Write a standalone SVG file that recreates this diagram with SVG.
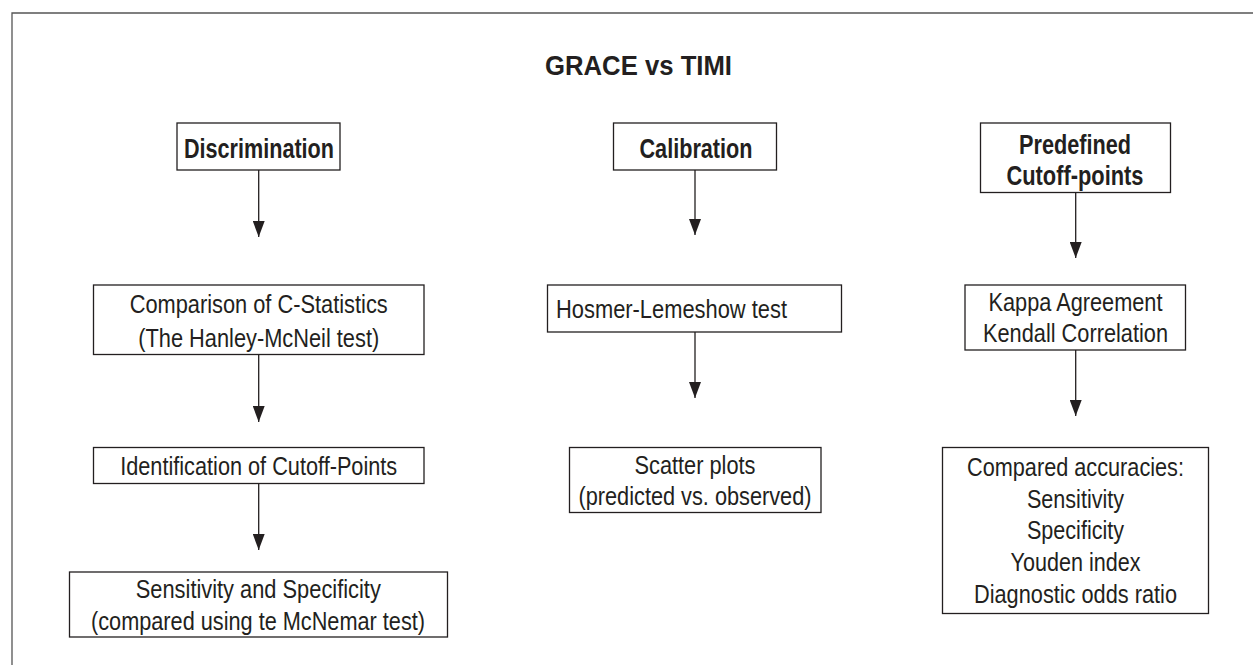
<svg xmlns="http://www.w3.org/2000/svg" width="1253" height="665" viewBox="0 0 1253 665">
<style>
.box{fill:#fff;stroke:#231f20;stroke-width:1.3}
.t{font-family:"Liberation Sans",Arial,sans-serif;font-size:25px;fill:#231f20;text-anchor:middle}
.b{font-family:"Liberation Sans",Arial,sans-serif;font-size:27px;font-weight:bold;fill:#231f20;text-anchor:middle}
.c{stroke:#231f20;stroke-width:1.3;fill:none;marker-end:url(#ah)}
</style>
<defs>
<marker id="ah" markerUnits="userSpaceOnUse" markerWidth="16" markerHeight="12" refX="16" refY="6" orient="auto" viewBox="0 0 16 12">
<path d="M0,0 L16,6 L0,12 Z" fill="#231f20"/>
</marker>
</defs>
<rect width="1253" height="665" fill="#fff"/>
<path d="M12,665 V13 H1253" fill="none" stroke="#555" stroke-width="1.3"/>
<g id="title"><text class="b" x="638.5" y="75" textLength="187" lengthAdjust="spacingAndGlyphs">GRACE vs TIMI</text></g>

<g id="connectors">
<line class="c" x1="258.7" y1="170" x2="258.7" y2="237"/>
<line class="c" x1="258.7" y1="355" x2="258.7" y2="422"/>
<line class="c" x1="258.7" y1="483" x2="258.7" y2="550"/>
<line class="c" x1="695" y1="170" x2="695" y2="235"/>
<line class="c" x1="695" y1="332" x2="695" y2="398"/>
<line class="c" x1="1075.7" y1="192" x2="1075.7" y2="258"/>
<line class="c" x1="1075.7" y1="350" x2="1075.7" y2="416"/>
</g>

<g id="discrimination">
<rect class="box" x="177" y="123" width="163" height="47"/>
<text class="b" x="259" y="158" textLength="150" lengthAdjust="spacingAndGlyphs">Discrimination</text>
</g>
<g id="calibration">
<rect class="box" x="613.5" y="123" width="163" height="47"/>
<text class="b" x="696" y="158" textLength="113" lengthAdjust="spacingAndGlyphs">Calibration</text>
</g>
<g id="predefined">
<rect class="box" x="980.5" y="123" width="190" height="69.5"/>
<text class="b" x="1075" y="154" textLength="112" lengthAdjust="spacingAndGlyphs">Predefined</text>
<text class="b" x="1075" y="185" textLength="137" lengthAdjust="spacingAndGlyphs">Cutoff-points</text>
</g>

<g id="comparison">
<rect class="box" x="93.5" y="285" width="330.5" height="69.5"/>
<text class="t" x="258.7" y="313" textLength="258" lengthAdjust="spacingAndGlyphs">Comparison of C-Statistics</text>
<text class="t" x="258.7" y="346.5" textLength="241" lengthAdjust="spacingAndGlyphs">(The Hanley-McNeil test)</text>
</g>
<g id="identification">
<rect class="box" x="93.5" y="447.5" width="330.5" height="36"/>
<text class="t" x="258.7" y="475" textLength="277" lengthAdjust="spacingAndGlyphs">Identification of Cutoff-Points</text>
</g>
<g id="sensspec">
<rect class="box" x="69.5" y="572" width="378" height="65"/>
<text class="t" x="258.3" y="597.5" textLength="245" lengthAdjust="spacingAndGlyphs">Sensitivity and Specificity</text>
<text class="t" x="258" y="630" textLength="334" lengthAdjust="spacingAndGlyphs">(compared using te McNemar test)</text>
</g>

<g id="hosmer">
<rect class="box" x="547.5" y="285" width="294" height="47"/>
<text class="t" x="556" y="317.5" style="text-anchor:start" textLength="231" lengthAdjust="spacingAndGlyphs">Hosmer-Lemeshow test</text>
</g>
<g id="scatter">
<rect class="box" x="569.5" y="447.5" width="251.5" height="65"/>
<text class="t" x="695" y="473.5" textLength="121" lengthAdjust="spacingAndGlyphs">Scatter plots</text>
<text class="t" x="695" y="505" textLength="233" lengthAdjust="spacingAndGlyphs">(predicted vs. observed)</text>
</g>

<g id="kappa">
<rect class="box" x="965" y="285" width="220.5" height="65"/>
<text class="t" x="1075.5" y="310.5" textLength="174" lengthAdjust="spacingAndGlyphs">Kappa Agreement</text>
<text class="t" x="1075.5" y="342.3" textLength="185" lengthAdjust="spacingAndGlyphs">Kendall Correlation</text>
</g>
<g id="accuracies">
<rect class="box" x="942.5" y="447.5" width="266" height="166"/>
<text class="t" x="1075.5" y="476" textLength="217" lengthAdjust="spacingAndGlyphs">Compared accuracies:</text>
<text class="t" x="1075.5" y="507.7" textLength="97" lengthAdjust="spacingAndGlyphs">Sensitivity</text>
<text class="t" x="1075.5" y="539.3" textLength="97" lengthAdjust="spacingAndGlyphs">Specificity</text>
<text class="t" x="1075.5" y="571" textLength="130" lengthAdjust="spacingAndGlyphs">Youden index</text>
<text class="t" x="1075.5" y="602.7" textLength="203" lengthAdjust="spacingAndGlyphs">Diagnostic odds ratio</text>
</g>
</svg>
